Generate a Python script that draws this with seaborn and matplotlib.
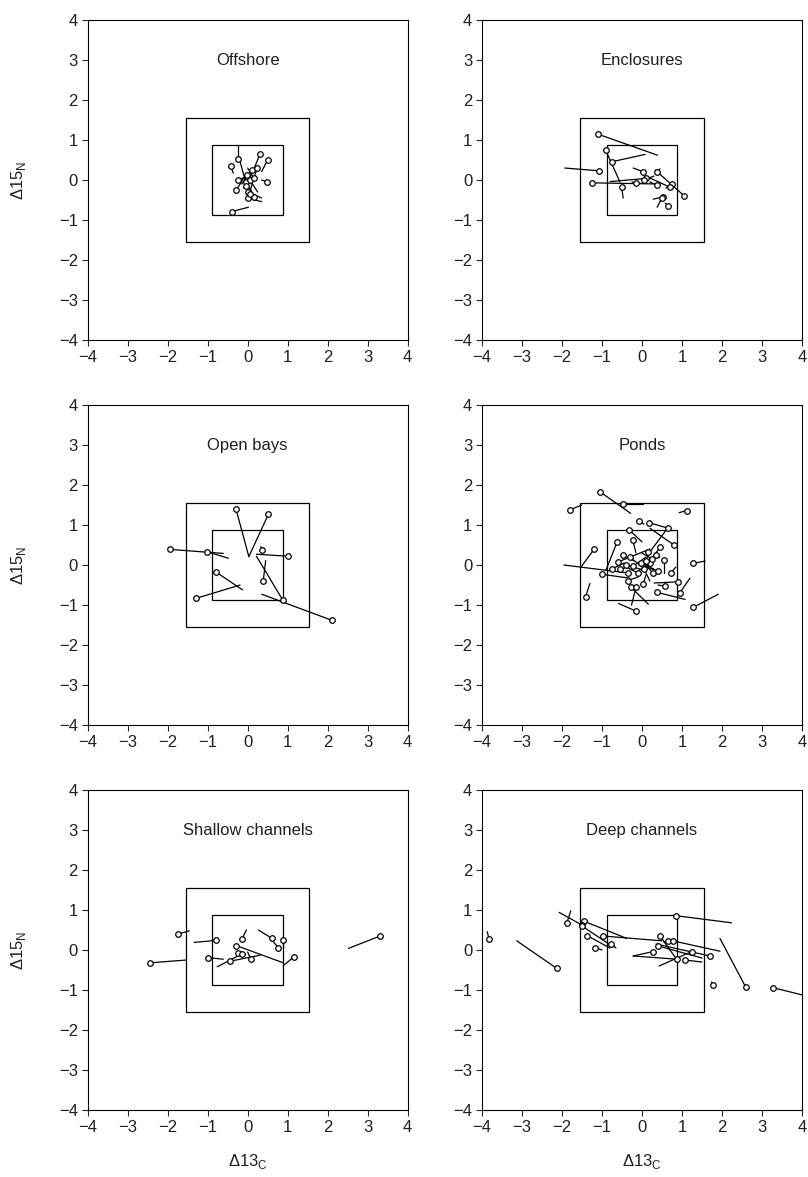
import numpy as np
import pandas as pd
import seaborn as sns
import matplotlib.pyplot as plt
from matplotlib.patches import Rectangle

# panel names
panels = ['Offshore', 'Enclosures', 'Open bays', 'Ponds', 'Shallow channels', 'Deep channels']

# reference squares (half widths)
inner_half = 0.88
outer_half = 1.54

# each panel: circle end (x, y) and the other end of the segment (x2, y2)
offshore_x = [0.31, 0.50, -0.42, -0.23, -0.05, -0.24, -0.28, 0.48, -0.40, 0.10, 0.24, 0.01, 0.16, -0.02, 0.01, 0.05, -0.05, 0.15, 0.05]
offshore_y = [0.65, 0.50, 0.35, 0.52, -0.05, 0.00, -0.25, -0.04, -0.79, 0.25, 0.29, -0.46, -0.43, 0.12, -0.29, 0.00, -0.15, 0.05, -0.35]
offshore_x2 = [0.16, 0.35, -0.36, -0.23, -0.20, 0.05, -0.10, 0.35, 0.02, -0.15, 0.12, 0.35, 0.05, 0.25, 0.35, -0.10, 0.10, 0.00, 0.12]
offshore_y2 = [0.29, 0.21, 0.17, 0.85, 0.50, 0.12, 0.05, 0.00, -0.68, -0.10, -0.05, -0.54, -0.20, -0.30, -0.45, -0.20, 0.15, 0.30, -0.05]

enclosures_x = [-1.11, -0.91, -0.74, -1.07, -1.26, -0.51, -0.15, 0.02, 1.05, 0.38, 0.10, 0.38, 0.76, 0.70, 0.53, 0.49, 0.66, 0.05]
enclosures_y = [1.15, 0.75, 0.46, 0.23, -0.07, -0.17, -0.08, 0.21, -0.39, 0.21, 0.04, -0.13, -0.10, -0.18, -0.42, -0.46, -0.64, 0.00]
enclosures_x2 = [0.39, -0.55, 0.08, -1.93, 0.45, -0.47, -0.25, -0.22, 0.33, 0.45, -0.80, 0.20, 0.60, 0.20, 0.28, 0.38, 0.58, 0.30]
enclosures_y2 = [0.62, -0.05, 0.64, 0.30, -0.10, -0.45, -0.05, 0.30, 0.25, 0.28, -0.04, -0.05, -0.20, 0.05, -0.48, -0.68, -0.58, 0.10]

openbays_x = [-1.94, -1.01, -0.29, 0.52, 0.37, 1.02, -0.80, 0.39, -1.28, 0.88, 2.10]
openbays_y = [0.39, 0.33, 1.39, 1.27, 0.38, 0.22, -0.17, -0.39, -0.83, -0.88, -1.38]
openbays_x2 = [-0.61, -0.48, 0.03, 0.03, 0.33, 0.22, -0.13, 0.45, -0.19, 0.22, 0.35]
openbays_y2 = [0.29, 0.17, 0.21, 0.21, 0.46, 0.27, -0.62, 0.11, -0.50, 0.22, -0.73]

ponds_x = [-1.05, -1.80, -0.48, 1.12, -0.07, 0.17, 0.64, -0.32, 0.80, -0.62, -0.23, -1.20, -0.35, 1.28, 0.56,
           -1.01, -1.41, -0.15, 1.28, 0.95, 0.37, -0.27, -0.15, -0.36, 0.91, 0.72, 0.58, 0.03, -0.59, -0.47,
           -0.55, -0.22, 0.16, 0.35, -0.02, 0.20, 0.28, -0.40, 0.05, 0.10, -0.30, 0.40, -0.10, 0.25, -0.75, 0.45]
ponds_y = [1.83, 1.38, 1.52, 1.36, 1.10, 1.06, 0.92, 0.88, 0.50, 0.58, 0.63, 0.39, -0.20, 0.04, 0.13,
           -0.23, -0.79, -1.15, -1.06, -0.69, -0.68, -0.56, -0.56, -0.39, -0.42, -0.19, -0.53, -0.48, 0.08, 0.25,
           -0.11, -0.03, 0.33, 0.25, 0.04, 0.04, -0.21, 0.00, -0.10, 0.10, 0.20, -0.15, -0.20, 0.15, -0.10, 0.45]
ponds_x2 = [-0.28, -1.51, 0.03, 0.93, 0.05, 0.66, 0.20, 0.00, 0.20, -0.90, -0.15, -1.51, -1.95, 1.58, 0.56,
            -0.30, -1.30, -0.59, 1.91, 1.20, 1.08, 0.16, -0.26, -0.10, 0.30, 0.85, 0.40, 0.10, 0.20, -0.20,
            -0.20, 0.10, 0.10, 0.15, 0.30, -0.10, 0.00, -0.05, 0.20, 0.45, 0.00, 0.10, -0.40, 0.00, -0.45, 0.25]
ponds_y2 = [1.29, 1.50, 1.52, 1.31, 1.02, 0.92, 0.33, 0.58, 0.92, -0.13, 0.30, -0.03, 0.00, 0.10, -0.21,
            -0.33, -0.46, -0.96, -0.73, -0.33, -0.86, -0.98, -1.00, -0.30, -0.45, -0.05, -0.50, -0.25, 0.40, 0.10,
            0.00, 0.20, 0.05, 0.00, -0.10, -0.15, 0.10, -0.10, -0.40, 0.20, -0.05, -0.05, -0.05, 0.30, 0.05, 0.15]

shallow_x = [-2.44, -1.73, -0.79, -0.98, -0.44, -0.28, -0.15, -0.24, -0.13, 0.08, 0.61, 0.77, 0.89, 1.16, 3.31]
shallow_y = [-0.32, 0.40, 0.24, -0.19, -0.28, 0.11, 0.27, -0.07, -0.09, -0.23, 0.29, 0.06, 0.26, -0.17, 0.35]
shallow_x2 = [-1.53, -1.46, -1.34, -0.61, 0.31, 0.89, -0.03, -0.15, -0.76, 0.00, 0.27, 0.60, 0.89, 0.89, 2.52]
shallow_y2 = [-0.25, 0.48, 0.19, -0.23, -0.13, -0.32, 0.50, -0.12, -0.42, -0.05, 0.50, 0.25, 0.05, -0.39, 0.04]

deep_x = [-3.82, -2.13, -1.88, -1.45, -1.51, -1.50, -1.37, -1.18, -0.97, -0.78, 0.84, 0.45, 0.66, 0.77, 0.41,
          0.27, 1.24, 0.88, 1.07, 1.70, 1.77, 2.59, 3.27]
deep_y = [0.27, -0.46, 0.67, 0.72, 0.63, 0.60, 0.36, 0.06, 0.35, 0.15, 0.86, 0.35, 0.23, 0.23, 0.10,
          -0.04, -0.04, -0.23, -0.25, -0.15, -0.88, -0.92, -0.94]
deep_x2 = [-3.87, -3.13, -1.78, -0.38, -2.07, -0.72, -0.80, -1.00, 0.49, -0.65, 2.24, 0.88, 0.55, 1.95, 1.50,
           -0.22, 0.43, -0.22, 1.50, 0.35, 1.74, 1.95, 4.20]
deep_y2 = [0.46, 0.23, 0.98, 0.29, 0.94, 0.08, 0.05, 0.00, 0.23, 0.05, 0.68, -0.25, 0.20, -0.03, -0.20,
           -0.15, -0.40, -0.15, -0.30, 0.15, -0.80, 0.29, -1.17]

panel_data = [
    (offshore_x, offshore_y, offshore_x2, offshore_y2),
    (enclosures_x, enclosures_y, enclosures_x2, enclosures_y2),
    (openbays_x, openbays_y, openbays_x2, openbays_y2),
    (ponds_x, ponds_y, ponds_x2, ponds_y2),
    (shallow_x, shallow_y, shallow_x2, shallow_y2),
    (deep_x, deep_y, deep_x2, deep_y2),
]

ticks = [-4, -3, -2, -1, 0, 1, 2, 3, 4]

sns.set_style("ticks")
plt.rcParams['font.family'] = ['Liberation Sans', 'DejaVu Sans']
plt.rcParams['axes.linewidth'] = 0.8
plt.rcParams['axes.edgecolor'] = 'black'

fig = plt.figure(figsize=(8.08, 11.77), dpi=100)

lefts = [0.1085, 0.5965]
bottoms = [0.7111, 0.384, 0.0569]
w, h = 0.396, 0.2719
txt = '#231f20'

for i, name in enumerate(panels):
    row, col = divmod(i, 2)
    ax = fig.add_axes([lefts[col], bottoms[row], w, h])
    xs, ys, xs2, ys2 = panel_data[i]

    # long-form table of segments
    seg = pd.DataFrame({
        'id': list(range(len(xs))) * 2,
        'x': list(xs) + list(xs2),
        'y': list(ys) + list(ys2),
    })
    sns.lineplot(data=seg, x='x', y='y', units='id', estimator=None, sort=False,
                 color='black', lw=0.9, ax=ax, legend=False)
    sns.scatterplot(x=xs, y=ys, marker='o', s=16, facecolor='white', edgecolor='black',
                    linewidth=0.9, ax=ax, zorder=3, legend=False)

    for half in (inner_half, outer_half):
        ax.add_patch(Rectangle((-half, -half), 2 * half, 2 * half, fill=False,
                               edgecolor='black', lw=0.9))

    ax.text(0, 3, name, ha='center', va='center', fontsize=12, color=txt)

    ax.set_xlim(-4, 4)
    ax.set_ylim(-4, 4)
    ax.set_xticks(ticks)
    ax.set_yticks(ticks)
    ax.tick_params(direction='out', length=4, width=0.8, labelsize=12, pad=3,
                   top=False, right=False, labelcolor=txt)
    for s in ax.spines.values():
        s.set_visible(True)
        s.set_color('black')

    ax.set_xlabel('')
    ax.set_ylabel('')
    if col == 0:
        ax.set_ylabel('Δ15$_\\mathregular{N}$', fontsize=12, color=txt)
        ax.yaxis.set_label_coords(-0.185, 0.5)
    if row == 2:
        ax.set_xlabel('Δ13$_\\mathregular{C}$', fontsize=12, color=txt)
        ax.xaxis.set_label_coords(0.5, -0.13)

plt.savefig('out.png', dpi=100)
